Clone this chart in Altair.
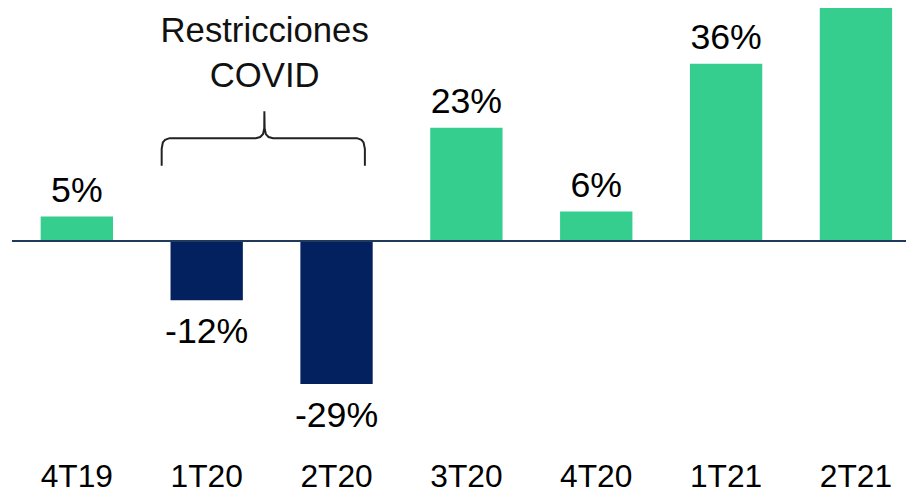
import altair as alt
import pandas as pd

# ---- data ----
quarters = ["4T19", "1T20", "2T20", "3T20", "4T20", "1T21", "2T21"]
values = [5, -12, -29, 23, 6, 36, 55]

annot_lines = ["Restricciones", "COVID"]
annot_x = [1.446]
annot_y = [40.4]

# brace path in (category index, % value) units
brace_x = [0.653, 0.653, 0.662, 0.679, 0.714, 1.378, 1.412, 1.434, 1.443, 1.444,
           1.446, 1.455, 1.476, 1.511, 2.157, 2.191, 2.208, 2.218, 2.218]
brace_y = [15.29, 18.71, 20.02, 20.56, 20.89, 20.89, 21.13, 21.73, 22.94, 26.36,
           22.94, 21.73, 21.13, 20.89, 20.89, 20.56, 20.02, 18.71, 15.29]

GREEN = "#35CE8F"
NAVY = "#03215E"
ZERO = "#1F3A5C"
FONT = "Liberation Sans"

df = pd.DataFrame({"q": quarters, "v": values})
df["label"] = [f"{v}%" for v in values]
df["sign"] = ["neg" if v < 0 else "pos" for v in values]

brace_df = pd.DataFrame({"bx": brace_x, "by": brace_y, "o": list(range(len(brace_x)))})
annot_df = pd.DataFrame({"ax": annot_x, "ay": annot_y})

W, H = 902, 447
STEP = 131.0
PX = 4.97
ydom = [-(H - 233) / PX, 233 / PX]
yscale = alt.Scale(domain=ydom, nice=False, zero=False)
xband = alt.Scale(domain=quarters, paddingInner=0.443, paddingOuter=0.164, align=0.674)
xq = alt.Scale(domain=[-0.5, W / STEP - 0.5], nice=False, zero=False)

base = alt.Chart(df)

bars = base.mark_bar().encode(
    x=alt.X("q:N", scale=xband, sort=quarters,
            axis=alt.Axis(title=None, labelAngle=0, domain=False, ticks=False, grid=False,
                          labelFontSize=32, labelFont=FONT, labelColor="#000000",
                          labelPadding=9)),
    y=alt.Y("v:Q", scale=yscale, axis=None),
    color=alt.Color("sign:N", scale=alt.Scale(domain=["pos", "neg"], range=[GREEN, NAVY]),
                    legend=None),
)

# labels only for bars whose end lies inside the visible value range
lab_pos = base.transform_filter(f"datum.v >= 0 && datum.v <= {ydom[1] - 8}").mark_text(
    font=FONT, fontSize=36, color="#000000", baseline="alphabetic", dy=-15
).encode(x=alt.X("q:N", scale=xband, sort=quarters), y=alt.Y("v:Q", scale=yscale), text="label:N")

lab_neg = base.transform_filter("datum.v < 0").mark_text(
    font=FONT, fontSize=36, color="#000000", baseline="alphabetic", dy=43
).encode(x=alt.X("q:N", scale=xband, sort=quarters), y=alt.Y("v:Q", scale=yscale), text="label:N")

zero = alt.Chart(pd.DataFrame({"z": [0]})).mark_rule(color=ZERO, strokeWidth=2).encode(
    y=alt.Y("z:Q", scale=yscale)
)

brace = alt.Chart(brace_df).mark_line(color="#222222", strokeWidth=2).encode(
    x=alt.X("bx:Q", scale=xq, axis=None),
    y=alt.Y("by:Q", scale=yscale),
    order="o:Q",
)

annot = alt.Chart(annot_df).mark_text(
    text=annot_lines, font=FONT, fontSize=35, color="#111111",
    baseline="alphabetic", lineHeight=45, align="center"
).encode(
    x=alt.X("ax:Q", scale=xq, axis=None),
    y=alt.Y("ay:Q", scale=yscale),
)

band_layer = alt.layer(bars, lab_pos, lab_neg, zero)
quant_layer = alt.layer(brace, annot)

chart = alt.layer(band_layer, quant_layer).resolve_scale(x="independent").properties(
    width=W, height=H,
    autosize=alt.AutoSizeParams(type="none"),
    padding={"left": 4, "top": 0, "right": 0, "bottom": 40},
).configure_view(strokeWidth=0)

chart.save("out.html", embed_options={"renderer": "svg", "actions": False})
